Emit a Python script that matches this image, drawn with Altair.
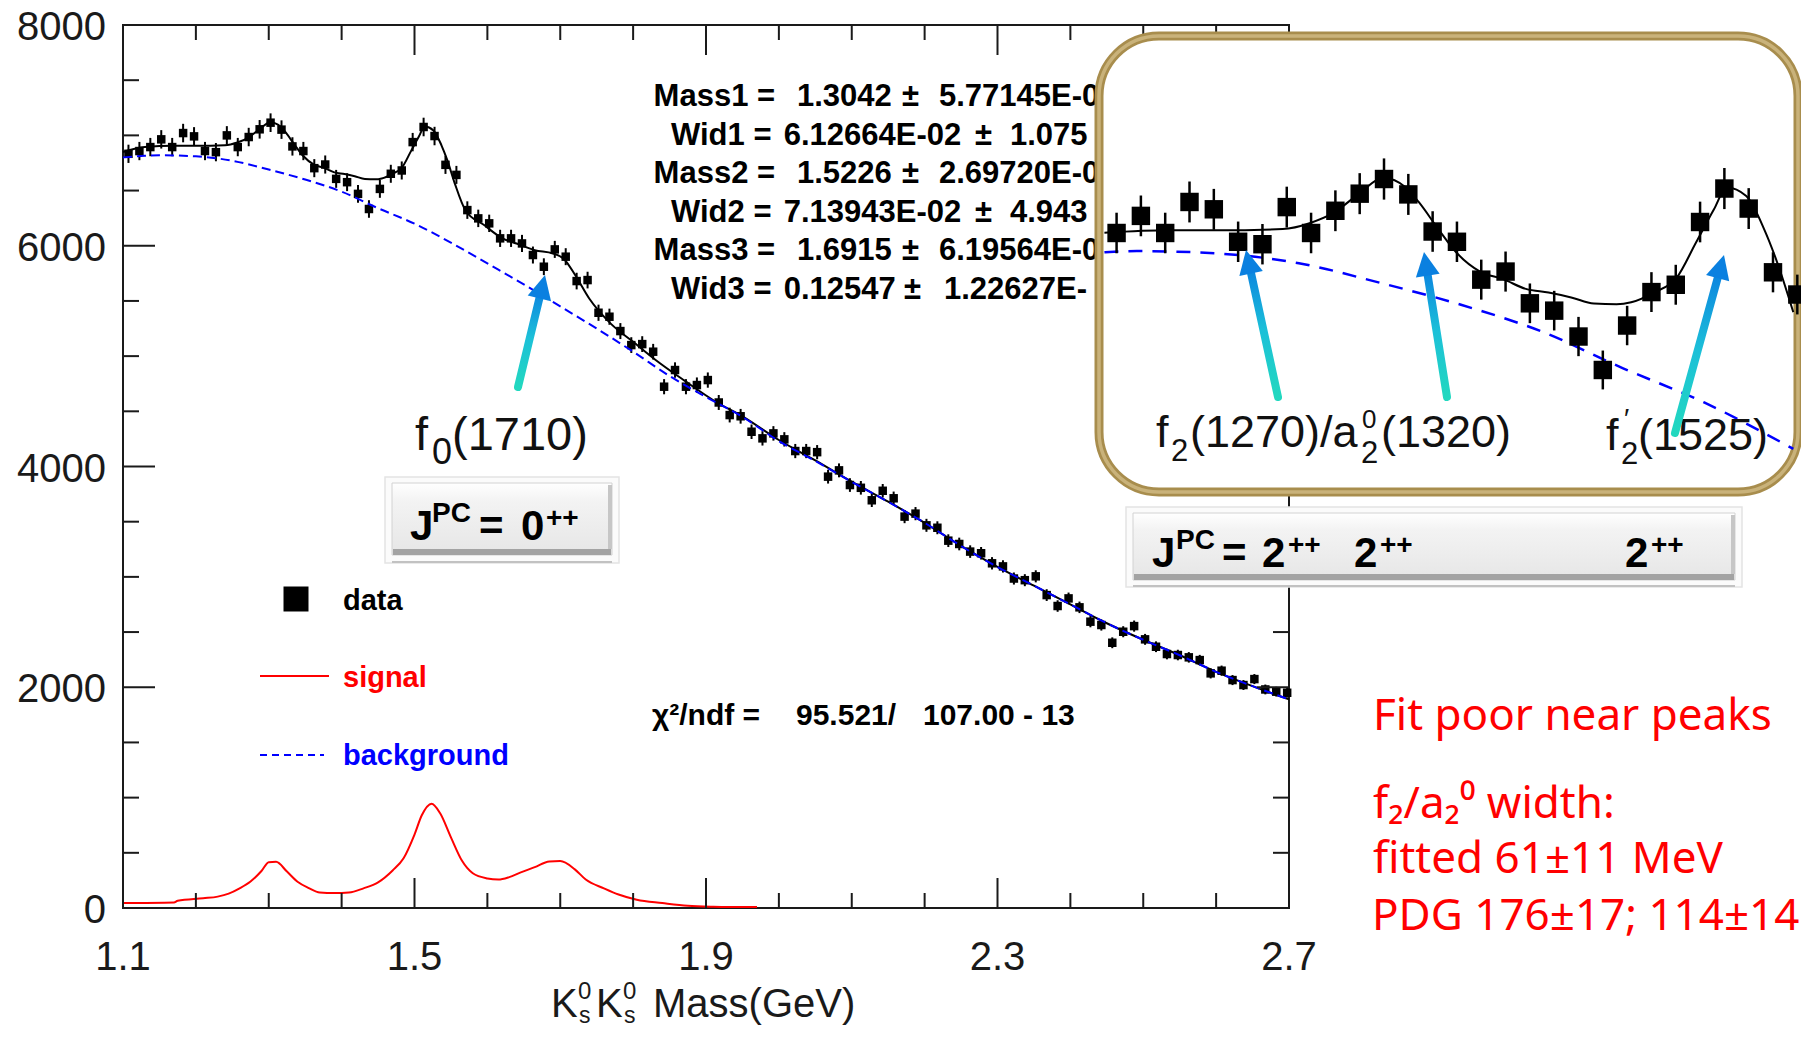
import math
import altair as alt
import pandas as pd

# ------------------------------------------------------------------ values
BIN_START = 1.1      # GeV, low edge of first bin
BIN_WIDTH = 0.015    # GeV
data_counts = [
    6833, 6858, 6894, 6964, 6894, 7021, 6991, 6858, 6848, 7000,
    6894, 6985, 7055, 7115, 7052, 6900, 6858, 6703, 6736, 6606,
    6576, 6470, 6333, 6515, 6652, 6682, 6939, 7076, 6994, 6733,
    6642, 6323, 6248, 6203, 6067, 6067, 6021, 5916, 5810, 5967,
    5901, 5680, 5689, 5393, 5357, 5227, 5100, 5109, 5040, 4723,
    4874, 4723, 4738, 4783, 4580, 4466, 4455, 4315, 4255, 4300,
    4246, 4140, 4140, 4130, 3908, 3965, 3832, 3807, 3694, 3780,
    3712, 3546, 3573, 3467, 3445, 3328, 3298, 3229, 3214, 3123,
    3095, 2985, 2970, 3005, 2835, 2736, 2805, 2724, 2594, 2564,
    2403, 2503, 2554, 2434, 2367, 2301, 2292, 2271, 2246, 2126,
    2150, 2065, 2020, 2074, 1980, 1960, 1950,
]

bg_mass = [1.10, 1.13, 1.15, 1.20, 1.25, 1.30, 1.35, 1.40, 1.45, 1.50,
           1.555, 1.60, 1.65, 1.70, 1.75, 1.80, 1.85, 1.90, 1.95, 2.00,
           2.05, 2.10, 2.15, 2.20, 2.25, 2.30, 2.35, 2.40, 2.45, 2.50,
           2.55, 2.60, 2.65, 2.70]
bg_counts = [6800, 6815, 6820, 6810, 6770, 6690, 6600, 6490, 6340, 6200,
             6010, 5840, 5650, 5450, 5250, 5040, 4820, 4630, 4450, 4230,
             4050, 3860, 3680, 3490, 3280, 3090, 2920, 2750, 2580, 2430,
             2290, 2140, 2010, 1890]

fit_mass = [1.10, 1.13, 1.17, 1.20, 1.24, 1.257, 1.271, 1.288, 1.302, 1.316,
            1.324, 1.336, 1.347, 1.362, 1.376, 1.39, 1.404, 1.418, 1.432, 1.446,
            1.455, 1.469, 1.483, 1.495, 1.506, 1.514, 1.526, 1.537, 1.545, 1.555,
            1.57, 1.595, 1.62, 1.64, 1.665, 1.69, 1.705, 1.72, 1.74, 1.77,
            1.80, 1.83, 1.87, 1.915, 1.95, 2.00, 2.05, 2.10, 2.15, 2.20,
            2.25, 2.30, 2.35, 2.40, 2.45, 2.50, 2.55, 2.60, 2.65, 2.70]
fit_counts = [6850, 6895, 6905, 6905, 6910, 6935, 6975, 7060, 7120, 7080,
              7020, 6910, 6815, 6735, 6705, 6665, 6650, 6630, 6605, 6602,
              6610, 6650, 6710, 6855, 6990, 7080, 7045, 6910, 6775, 6570,
              6320, 6190, 6070, 6020, 5960, 5930, 5880, 5740, 5520, 5290,
              5130, 4970, 4780, 4580, 4455, 4240, 4055, 3862, 3681, 3490,
              3280, 3090, 2920, 2750, 2580, 2430, 2290, 2140, 2010, 1890]

sig_mass = [1.10, 1.17, 1.175, 1.21, 1.23, 1.245, 1.26, 1.275, 1.29, 1.30,
            1.31, 1.325, 1.34, 1.355, 1.37, 1.39, 1.41, 1.43, 1.45, 1.47,
            1.485, 1.50, 1.51, 1.5235, 1.535, 1.55, 1.565, 1.58, 1.60, 1.615,
            1.63, 1.645, 1.665, 1.685, 1.70, 1.72, 1.735, 1.76, 1.78, 1.805,
            1.84, 1.875, 1.91, 1.97]
sig_counts = [45, 50, 65, 88, 103, 130, 178, 240, 335, 415,
              418, 330, 235, 180, 140, 135, 140, 178, 232, 340,
              450, 665, 840, 945, 860, 640, 430, 315, 268, 258,
              280, 320, 370, 422, 425, 350, 258, 178, 122, 75,
              45, 20, 12, 8]

x_tick_values = [1.1, 1.2, 1.3, 1.4, 1.5, 1.6, 1.7, 1.8, 1.9, 2.0,
                 2.1, 2.2, 2.3, 2.4, 2.5, 2.6, 2.7]
x_label_values = [1.1, 1.5, 1.9, 2.3, 2.7]
y_tick_values = [0, 500, 1000, 1500, 2000, 2500, 3000, 3500, 4000,
                 4500, 5000, 5500, 6000, 6500, 7000, 7500, 8000]
y_label_values = [0, 2000, 4000, 6000, 8000]

# inset: magnified view of bins 3..31
INSET_FIRST_BIN, INSET_LAST_BIN = 2, 30
INSET_MASS_RANGE = (1.128, 1.556)

# ------------------------------------------------------------------ texts
stat_names = ["Mass1 =", "Wid1 =", "Mass2 =", "Wid2 =", "Mass3 =", "Wid3 ="]
stat_values = ["1.3042", "6.12664E-02", "1.5226", "7.13943E-02", "1.6915", "0.12547"]
stat_errors = ["5.77145E-0", "1.075", "2.69720E-0", "4.943", "6.19564E-0", "1.22627E-"]
chi2_parts = ["\u03c7\u00b2/ndf =", "95.521/", "107.00 - 13"]
legend_labels = ["data", "signal", "background"]
note_lines = ["Fit poor near peaks", "f\u2082/a\u2082\u2070 width:",
              "fitted 61\u00b111 MeV", "PDG 176\u00b117; 114\u00b114"]

# ------------------------------------------------------------------ layout (page pixels)
FONT = "Liberation Sans"
NOTE_FONT = "Noto Sans"
PLOT_L, PLOT_T, PLOT_W, PLOT_H = 123, 25, 1166, 883
CANVAS_W, CANVAS_H = 1793, 1021

stat_name_x = [653.6, 671, 653.6, 671, 653.6, 671]
stat_value_x = [797, 783.7, 797, 783.7, 797, 783.7]
stat_pm_x = [902, 975, 902, 975, 902, 904]
stat_err_x = [939, 1010, 939, 1010, 939, 944]
stat_base_y = [106, 145, 182.7, 221.7, 260, 299.3]
chi2_x = [652, 796, 923]
chi2_y = 725
legend_text_x = 343
legend_base_y = [610, 686.7, 765]
legend_colors = ["#000000", "#ff0000", "#0000ff"]

INK = "#1a1a1a"
RED = "#ff0000"
BLUE = "#0000ff"

# ------------------------------------------------------------------ scales
main_x = alt.Scale(domain=[1.1, 2.7], nice=False, zero=False)
main_y = alt.Scale(domain=[0, 8000], nice=False, zero=False)
page_x = alt.Scale(domain=[PLOT_L, PLOT_L + PLOT_W], range=[0, PLOT_W], nice=False, zero=False)
page_y = alt.Scale(domain=[PLOT_T, PLOT_T + PLOT_H], range=[0, PLOT_H], nice=False, zero=False)
inset_x = alt.Scale(domain=[1.1, 1.6], range=[932.8, 1743.2], nice=False, zero=False)
inset_y = alt.Scale(domain=[5000, 8000], range=[670.5, -62.1], nice=False, zero=False)


def MX(f):
    return alt.X(f"{f}:Q", scale=main_x, axis=None)


def MY(f):
    return alt.Y(f"{f}:Q", scale=main_y, axis=None)


def PX(f="x"):
    return alt.X(f"{f}:Q", scale=page_x, axis=None)


def PY(f="y"):
    return alt.Y(f"{f}:Q", scale=page_y, axis=None)


def IX(f):
    return alt.X(f"{f}:Q", scale=inset_x, axis=None)


def IY(f):
    return alt.Y(f"{f}:Q", scale=inset_y, axis=None)


# ------------------------------------------------------------------ tables
mass = [round(BIN_START + BIN_WIDTH * (i + 0.5), 4) for i in range(len(data_counts))]
hist = pd.DataFrame({
    "m": mass,
    "n": data_counts,
    "lo": [c - math.sqrt(c) for c in data_counts],
    "hi": [c + math.sqrt(c) for c in data_counts],
})
bg_df = pd.DataFrame({"m": bg_mass, "n": bg_counts})
fit_df = pd.DataFrame({"m": fit_mass, "n": fit_counts})
sig_df = pd.DataFrame({"m": sig_mass, "n": sig_counts})

kx = 1.6 / PLOT_W
ky = 8000 / PLOT_H
tick_rows = []
for v in x_tick_values:
    L = 30 if v in x_label_values else 15
    tick_rows.append(dict(x=v, x2=v, y=0, y2=L * ky))
    tick_rows.append(dict(x=v, x2=v, y=8000, y2=8000 - L * ky))
for v in y_tick_values:
    L = 32 if v in y_label_values else 16
    tick_rows.append(dict(x=1.1, x2=1.1 + L * kx, y=v, y2=v))
    tick_rows.append(dict(x=2.7, x2=2.7 - L * kx, y=v, y2=v))
ticks_df = pd.DataFrame(tick_rows)

xlab_df = pd.DataFrame({"v": x_label_values, "z": [0] * len(x_label_values)})
ylab_df = pd.DataFrame({"v": y_label_values, "z": [1.1] * len(y_label_values)})

# ------------------------------------------------------------------ main panel
main = alt.layer(
    alt.Chart(hist).mark_rule(color="black", strokeWidth=2).encode(
        x=MX("m"), y=MY("lo"), y2="hi:Q"),
    alt.Chart(hist).mark_square(size=72, color="black", opacity=1).encode(x=MX("m"), y=MY("n")),
    alt.Chart(fit_df).mark_line(color="black", strokeWidth=2, interpolate="monotone").encode(
        x=MX("m"), y=MY("n")),
    alt.Chart(bg_df).mark_line(color=BLUE, strokeWidth=2, strokeDash=[9, 5], interpolate="monotone").encode(
        x=MX("m"), y=MY("n")),
    alt.Chart(sig_df).mark_line(color=RED, strokeWidth=2, interpolate="monotone").encode(
        x=MX("m"), y=MY("n")),
    alt.Chart(ticks_df).mark_rule(color=INK, strokeWidth=2).encode(
        x=MX("x"), x2="x2:Q", y=MY("y"), y2="y2:Q"),
    alt.Chart(xlab_df).mark_text(font=FONT, fontSize=40, color=INK, align="center",
                                 baseline="alphabetic", dy=62).encode(
        x=MX("v"), y=MY("z"), text=alt.Text("v:Q", format=".1f")),
    alt.Chart(ylab_df).mark_text(font=FONT, fontSize=40, color=INK, align="right",
                                 baseline="alphabetic", dx=-17, dy=15).encode(
        x=MX("z"), y=MY("v"), text=alt.Text("v:Q", format="d")),
)

# ------------------------------------------------------------------ annotations below the inset
bold_rows = []
for i in range(6):
    y = stat_base_y[i]
    bold_rows += [
        (stat_names[i], stat_name_x[i], y, 31, "#000000"),
        (stat_values[i], stat_value_x[i], y, 31, "#000000"),
        ("\u00b1", stat_pm_x[i], y, 31, "#000000"),
        (stat_errors[i], stat_err_x[i], y, 31, "#000000"),
    ]
for t, x in zip(chi2_parts, chi2_x):
    bold_rows.append((t, x, chi2_y, 30, "#000000"))
for t, y, c in zip(legend_labels, legend_base_y, legend_colors):
    bold_rows.append((t, legend_text_x, y, 29, c))
# J^PC boxes
bold_rows += [
    ("J", 410, 540, 42, "#000000"), ("PC", 432, 522, 28, "#000000"),
    ("=", 479, 540, 42, "#000000"), ("0", 521, 540, 42, "#000000"),
    ("++", 546, 527, 28, "#000000"),
    ("J", 1152, 567, 42, "#000000"), ("PC", 1176, 549, 28, "#000000"),
    ("=", 1222, 567, 42, "#000000"),
    ("2", 1262, 567, 42, "#000000"), ("++", 1288, 554, 28, "#000000"),
    ("2", 1354, 567, 42, "#000000"), ("++", 1380, 554, 28, "#000000"),
    ("2", 1625, 567, 42, "#000000"), ("++", 1651, 554, 28, "#000000"),
]
bold_df = pd.DataFrame(bold_rows, columns=["t", "x", "y", "fs", "c"])

regular_rows = [
    ("f", 415, 450, 47, "#111111"), ("0", 432, 464, 36, "#111111"),
    ("(1710)", 452, 450, 47, "#111111"),
    ("K", 551, 1017, 40, INK), ("0", 578, 999, 24, INK), ("s", 579, 1023, 23, INK),
    ("K", 596, 1017, 40, INK), ("0", 623, 999, 24, INK), ("s", 624, 1023, 23, INK),
    ("Mass(GeV)", 653, 1017, 40, INK),
]
regular_df = pd.DataFrame(regular_rows, columns=["t", "x", "y", "fs", "c"])

note_df = pd.DataFrame({
    "t": note_lines,
    "x": [1373, 1373, 1373, 1372],
    "y": [730, 818, 873, 930],
})

boxes = pd.DataFrame({
    "x": [385, 1126], "y": [477, 507], "x2": [619, 1742], "y2": [563, 587],
    "ix": [392, 1133], "iy": [483, 513], "ix2": [612, 1735], "iy2": [555, 580],
})
boxes["sy"] = boxes["y2"] - 2
boxes["bx"] = boxes["ix"] + 1
boxes["bx2"] = boxes["ix2"] - 1
boxes["by"] = boxes["iy2"] - 6
boxes["rx"] = boxes["ix2"] - 4
boxes["ry"] = boxes["iy"] + 2

face = alt.LinearGradient(gradient="linear", x1=0, x2=0, y1=0, y2=1, stops=[
    alt.GradientStop(color="#ffffff", offset=0),
    alt.GradientStop(color="#f3f3f3", offset=0.25),
    alt.GradientStop(color="#e6e6e6", offset=1),
])

legend_pts = pd.DataFrame({"x": [296], "y": [599]})
legend_lines = pd.DataFrame({"x": [260, 260], "x2": [329, 324], "y": [676, 755],
                             "kind": ["signal", "background"]})


def text_layer(df, font, weight):
    return alt.Chart(df).mark_text(font=font, fontWeight=weight, align="left",
                                   baseline="alphabetic").encode(
        x=PX(), y=PY(), text="t:N",
        size=alt.Size("fs:Q", scale=None, legend=None),
        color=alt.Color("c:N", scale=None, legend=None),
    )


annot_under = alt.layer(
    alt.Chart(boxes).mark_rect(fill="#fbfbfb", stroke="#e4e4e4", strokeWidth=1.5).encode(
        x=PX("x"), x2="x2:Q", y=PY("y"), y2="y2:Q"),
    alt.Chart(boxes).mark_rect(fill="#c2c2c2").encode(
        x=PX("ix"), x2="ix2:Q", y=PY("sy"), y2="y2:Q"),
    alt.Chart(boxes).mark_rect(fill=face, stroke="#d2d2d2", strokeWidth=1).encode(
        x=PX("ix"), x2="ix2:Q", y=PY("iy"), y2="iy2:Q"),
    alt.Chart(boxes).mark_rect(fill="#a3a3a3").encode(
        x=PX("bx"), x2="bx2:Q", y=PY("by"), y2="iy2:Q"),
    alt.Chart(boxes).mark_rect(fill="#c6c6c6").encode(
        x=PX("rx"), x2="ix2:Q", y=PY("ry"), y2="by:Q"),
    alt.Chart(legend_pts).mark_square(size=625, color="black", opacity=1).encode(x=PX(), y=PY()),
    alt.Chart(legend_lines[legend_lines.kind == "signal"]).mark_rule(color=RED, strokeWidth=2).encode(
        x=PX(), x2="x2:Q", y=PY()),
    alt.Chart(legend_lines[legend_lines.kind == "background"]).mark_rule(
        color=BLUE, strokeWidth=2, strokeDash=[7, 5]).encode(x=PX(), x2="x2:Q", y=PY()),
    text_layer(bold_df, FONT, "bold"),
    text_layer(regular_df, FONT, "normal"),
    alt.Chart(note_df).mark_text(font=NOTE_FONT, fontSize=44, color=RED, align="left",
                                 baseline="alphabetic").encode(x=PX(), y=PY(), text="t:N"),
)

# ------------------------------------------------------------------ inset frame
frame_df = pd.DataFrame({"x": [1099], "y": [36], "x2": [1798], "y2": [492]})
inset_frame = alt.layer(
    alt.Chart(frame_df).mark_rect(fill="white", stroke="#a88d4d", strokeWidth=9, cornerRadius=60).encode(
        x=PX("x"), x2="x2:Q", y=PY("y"), y2="y2:Q"),
    alt.Chart(frame_df).mark_rect(fill="transparent", stroke="#c9b27a", strokeWidth=3.5,
                                  cornerRadius=60).encode(
        x=PX("x"), x2="x2:Q", y=PY("y"), y2="y2:Q"),
)

# ------------------------------------------------------------------ inset content
lo_m, hi_m = INSET_MASS_RANGE
inset_hist = hist.iloc[INSET_FIRST_BIN:INSET_LAST_BIN + 1]
inset_fit = fit_df[(fit_df.m >= lo_m) & (fit_df.m <= hi_m)]
inset_bg = bg_df[(bg_df.m >= lo_m) & (bg_df.m <= hi_m)]
inset = alt.layer(
    alt.Chart(inset_fit).mark_line(color="black", strokeWidth=2, interpolate="monotone").encode(
        x=IX("m"), y=IY("n")),
    alt.Chart(inset_bg).mark_line(color=BLUE, strokeWidth=2.5, strokeDash=[14, 10],
                                  interpolate="monotone").encode(x=IX("m"), y=IY("n")),
    alt.Chart(inset_hist).mark_rule(color="black", strokeWidth=2.5).encode(
        x=IX("m"), y=IY("lo"), y2="hi:Q"),
    alt.Chart(inset_hist).mark_square(size=340, color="black", opacity=1).encode(
        x=IX("m"), y=IY("n")),
)

# ------------------------------------------------------------------ labels and arrows on top
inset_label_rows = [
    ("f", 1156, 447, 45), ("2", 1171, 461, 31), ("(1270)/a", 1190, 447, 45),
    ("0", 1362, 428, 26), ("2", 1361, 463, 31), ("(1320)", 1381, 447, 45),
    ("f", 1606, 450, 45), ("2", 1621, 464, 31), ("\u2032", 1624, 428, 28),
    ("(1525)", 1638, 450, 45),
]
inset_labels = pd.DataFrame(inset_label_rows, columns=["t", "x", "y", "fs"])
inset_labels["c"] = "#111111"

arrow_tail = [(518, 387), (1278, 397), (1447, 397), (1675, 433)]
arrow_tip = [(545, 275), (1246, 250), (1424, 252), (1724, 255)]
arows = []
for (tx, ty), (hx, hy) in zip(arrow_tail, arrow_tip):
    dx, dy = hx - tx, hy - ty
    d = math.hypot(dx, dy)
    ux, uy = dx / d, dy / d
    arows.append(dict(x=tx, y=ty, x2=hx - 14 * ux, y2=hy - 14 * uy,
                      hx=hx - 12 * ux, hy=hy - 12 * uy,
                      ang=math.degrees(math.atan2(dx, -dy)) % 360))
arrow_df = pd.DataFrame(arows)
shaft = alt.LinearGradient(gradient="linear", x1=0, x2=0, y1=1, y2=0, stops=[
    alt.GradientStop(color="#22d8bf", offset=0),
    alt.GradientStop(color="#1cc0d8", offset=0.5),
    alt.GradientStop(color="#0a80e0", offset=1),
])

annot_over = alt.layer(
    text_layer(inset_labels, FONT, "normal"),
    alt.Chart(arrow_df).mark_rule(stroke=shaft, strokeWidth=8, strokeCap="round").encode(
        x=PX("x"), x2="x2:Q", y=PY("y"), y2="y2:Q"),
    alt.Chart(arrow_df).mark_point(shape="M0,-1L1,1L-1,1Z", filled=True, size=576,
                                   color="#0a80e0", opacity=1, strokeWidth=0).encode(
        x=PX("hx"), y=PY("hy"), angle=alt.Angle("ang:Q", scale=None)),
)

chart = alt.layer(main, annot_under, inset_frame, inset, annot_over).resolve_scale(
    x="independent", y="independent"
).properties(
    width=PLOT_W, height=PLOT_H,
    autosize=alt.AutoSizeParams(type="none"),
    padding={"left": PLOT_L - 8, "top": PLOT_T - 8,
             "right": CANVAS_W - (PLOT_L - 8) - PLOT_W,
             "bottom": CANVAS_H - (PLOT_T - 8) - PLOT_H},
    background="white",
).configure_view(stroke=INK, strokeWidth=2)

chart.save("out.html", embed_options={"renderer": "svg", "actions": False})
